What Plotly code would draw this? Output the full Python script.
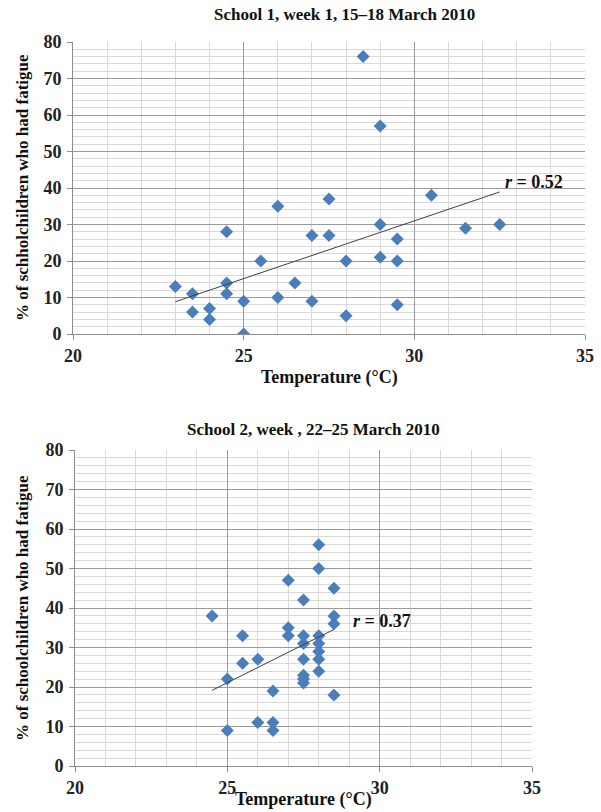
import numpy as np
import plotly.graph_objects as go

# School 1 data
temp1 = [23, 23.5, 23.5, 24, 24, 24.5, 24.5, 24.5, 25, 25, 25.5, 26, 26, 26.5, 27, 27,
         27.5, 27.5, 28, 28, 28.5, 29, 29, 29, 29.5, 29.5, 29.5, 30.5, 31.5, 32.5]
fat1 = [13, 11, 6, 7, 4, 28, 14, 11, 9, 0, 20, 35, 10, 14, 27, 9,
        37, 27, 20, 5, 76, 57, 30, 21, 26, 20, 8, 38, 29, 30]

# School 2 data
temp2 = [24.5, 25, 25, 25.5, 25.5, 26, 26, 26.5, 26.5, 26.5, 27, 27, 27,
         27.5, 27.5, 27.5, 27.5, 27.5, 27.5, 27.5,
         28, 28, 28, 28, 28, 28, 28, 28.5, 28.5, 28.5, 28.5]
fat2 = [38, 22, 9, 33, 26, 27, 11, 19, 11, 9, 47, 35, 33,
        42, 33, 31, 27, 23, 22, 21,
        56, 50, 33, 31, 29, 27, 24, 45, 38, 36, 18]

r_labels = ["0.52", "0.37"]
titles = ["School 1, week 1, 15\u201318 March 2010", "School 2, week , 22\u201325 March 2010"]
ytitles = ["% of schholchildren who had fatigue", "% of schoolchildren who had fatigue"]
xtitle = "Temperature (\u00b0C)"

W, H = 601, 812
FONT = "Liberation Serif"
BLUE = "#4a7ebb"

fig = go.Figure()

def px(x):
    return x / W

def py(y):
    return 1 - y / H

panels = [
    dict(x0=73, x1=585, y0=42, y1=334, temp=temp1, fat=fat1, xa="x", ya="y",
         title_y=14, title_x=344, xt_y=377, yt_x=22, r_pos=(32.6, 41.7)),
    dict(x0=75, x1=532, y0=450, y1=766, temp=temp2, fat=fat2, xa="x2", ya="y2",
         title_y=429, title_x=313, xt_y=799, yt_x=22, r_pos=(29.07, 36.7)),
]

annotations = []
for i, p in enumerate(panels):
    t = np.array(p["temp"], dtype=float)
    f = np.array(p["fat"], dtype=float)
    fig.add_trace(go.Scatter(x=p["temp"], y=p["fat"], mode="markers",
                             marker=dict(symbol="diamond", size=10, color=BLUE),
                             xaxis=p["xa"], yaxis=p["ya"], showlegend=False))
    m, b = np.polyfit(t, f, 1)
    xs = np.array([t.min(), t.max()])
    fig.add_trace(go.Scatter(x=xs, y=m * xs + b, mode="lines",
                             line=dict(color="#404040", width=1),
                             xaxis=p["xa"], yaxis=p["ya"], showlegend=False))
    axkey = "xaxis" if i == 0 else "xaxis2"
    aykey = "yaxis" if i == 0 else "yaxis2"
    common = dict(showline=True, linecolor="#8c8c8c", linewidth=1,
                  ticks="outside", ticklen=5, tickcolor="#8c8c8c",
                  tickfont=dict(family=FONT, size=18, color="#222", weight="bold"),
                  zeroline=False, gridcolor="#9a9a9a", gridwidth=1, automargin=False)
    fig.update_layout(**{
        axkey: dict(common, domain=[px(p["x0"]), px(p["x1"])], range=[20, 35],
                    dtick=5, tick0=20, anchor=p["ya"],
                    minor=dict(dtick=1, showgrid=True, gridcolor="#d9d9d9", ticks=""),
                    ticklabelstandoff=0),
        aykey: dict(common, domain=[py(p["y1"]), py(p["y0"])], range=[0, 80],
                    dtick=10, tick0=0, anchor=p["xa"],
                    minor=dict(dtick=2, showgrid=True, gridcolor="#d9d9d9", ticks=""),
                    ticklabelstandoff=2),
    })
    annotations.append(dict(text="<b>%s</b>" % titles[i], xref="paper", yref="paper",
                            x=px(p["title_x"]), y=py(p["title_y"]), xanchor="center",
                            yanchor="middle", showarrow=False,
                            font=dict(family=FONT, size=17, color="#111")))
    annotations.append(dict(text="<b>%s</b>" % xtitle, xref="paper", yref="paper",
                            x=px((p["x0"] + p["x1"]) / 2), y=py(p["xt_y"]),
                            xanchor="center", yanchor="middle", showarrow=False,
                            font=dict(family=FONT, size=18, color="#111")))
    annotations.append(dict(text="<b>%s</b>" % ytitles[i], xref="paper", yref="paper",
                            x=px(p["yt_x"]), y=py((p["y0"] + p["y1"]) / 2),
                            xanchor="center", yanchor="middle", showarrow=False,
                            textangle=-90,
                            font=dict(family=FONT, size=17, color="#111")))
    annotations.append(dict(text="<b><i>r</i> = %s</b>" % r_labels[i],
                            xref=p["xa"], yref=p["ya"], x=p["r_pos"][0], y=p["r_pos"][1],
                            xanchor="left", yanchor="middle", showarrow=False,
                            font=dict(family=FONT, size=18, color="#111")))

fig.update_layout(width=W, height=H, margin=dict(l=0, r=0, t=0, b=0, autoexpand=False),
                  paper_bgcolor="white", plot_bgcolor="white",
                  font=dict(family=FONT),
                  annotations=annotations)

fig.write_html("out.html")
